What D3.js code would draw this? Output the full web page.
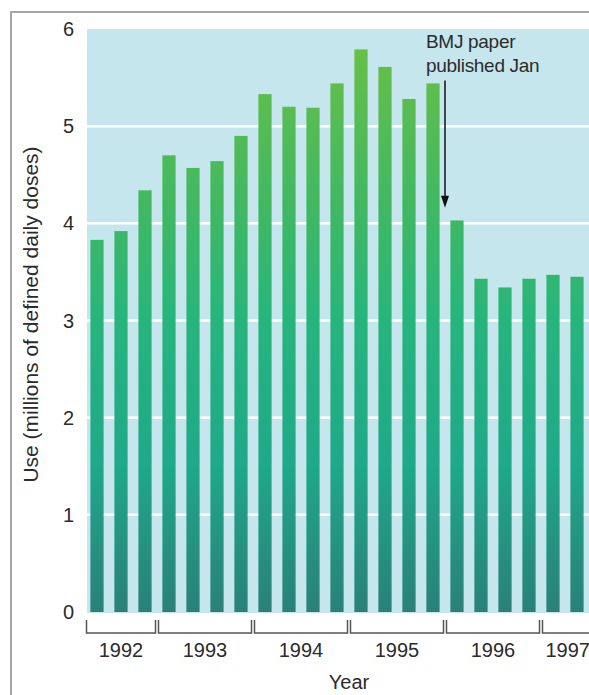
<!DOCTYPE html>
<html>
<head>
<meta charset="utf-8">
<script src="https://cdn.jsdelivr.net/npm/d3@7"></script>
<style>
  body { margin: 0; background: #fff; }
  text { font-family: "Liberation Sans", Arial, sans-serif; fill: #2b2b2b; }
</style>
</head>
<body>
<svg id="chart"></svg>
<script>
// quarterly use, 1992 Q2 to 1997 Q2
const quarters = ['1992Q2','1992Q3','1992Q4',
  '1993Q1','1993Q2','1993Q3','1993Q4',
  '1994Q1','1994Q2','1994Q3','1994Q4',
  '1995Q1','1995Q2','1995Q3','1995Q4',
  '1996Q1','1996Q2','1996Q3','1996Q4',
  '1997Q1','1997Q2'];
const values = [3.83, 3.92, 4.34,
  4.70, 4.57, 4.64, 4.90,
  5.33, 5.20, 5.19, 5.44,
  5.79, 5.61, 5.28, 5.44,
  4.03, 3.43, 3.34, 3.43,
  3.47, 3.45];
const years = ['1992', '1993', '1994', '1995', '1996', '1997'];
const yTicks = [0, 1, 2, 3, 4, 5, 6];
const noteLines = ['BMJ paper', 'published Jan'];
const noteAt = '1996Q1';   // arrow points at the start of this quarter
const arrowFrom = 5.47, arrowTo = 4.16;

const W = 589, H = 695;
const svg = d3.select('#chart').attr('width', W).attr('height', H);

const x = d3.scaleBand()
  .domain(quarters)
  .range([85, 589])
  .paddingInner(0.45)
  .paddingOuter(0.225);

const y = d3.scaleLinear()
  .domain([0, 6])
  .range([612, 29]);

const step = x.step();
const gap = step * 0.45 / 2;

// frame
svg.append('line').attr('x1', 11).attr('x2', W).attr('y1', 12).attr('y2', 12)
  .attr('stroke', '#a6a6a6').attr('stroke-width', 2);
svg.append('line').attr('x1', 11).attr('x2', 11).attr('y1', 11).attr('y2', H)
  .attr('stroke', '#a6a6a6').attr('stroke-width', 2);

// gradient for bars
const grad = svg.append('defs').append('linearGradient')
  .attr('id', 'barGrad')
  .attr('gradientUnits', 'userSpaceOnUse')
  .attr('x1', 0).attr('x2', 0)
  .attr('y1', y(6)).attr('y2', y(0));
[[0, '#6cc044'], [0.3, '#41b862'], [0.5, '#27b57c'], [0.75, '#1fa88a'], [1, '#2a8078']]
  .forEach(s => grad.append('stop').attr('offset', s[0]).attr('stop-color', s[1]));

// plot background
svg.append('rect')
  .attr('x', x.range()[0] + 2)
  .attr('y', y(6))
  .attr('width', W - x.range()[0] - 2)
  .attr('height', y(0) - y(6) + 1)
  .attr('fill', '#c6e6ed');

// gridlines
svg.append('g')
  .selectAll('line')
  .data(yTicks.filter(d => d > 0 && d < 6))
  .enter().append('line')
  .attr('x1', x.range()[0] + 2)
  .attr('x2', W)
  .attr('y1', d => y(d))
  .attr('y2', d => y(d))
  .attr('stroke', '#fff')
  .attr('stroke-width', 2.5);

// bars
svg.append('g')
  .selectAll('rect')
  .data(quarters)
  .enter().append('rect')
  .attr('x', d => x(d))
  .attr('y', (d, i) => y(values[i]))
  .attr('width', x.bandwidth())
  .attr('height', (d, i) => y(0) - y(values[i]))
  .attr('fill', 'url(#barGrad)');

// y tick labels
svg.append('g')
  .selectAll('text')
  .data(yTicks)
  .enter().append('text')
  .attr('x', 74)
  .attr('y', d => y(d) + 7)
  .attr('text-anchor', 'end')
  .style('font-size', '20px')
  .text(d => d);

// year brackets
const yearGroups = years.map(yr => quarters.filter(q => q.startsWith(yr)));
const br = svg.append('g');
yearGroups.forEach((qs, i) => {
  const x0 = x(qs[0]) - gap + 1.5;
  const x1 = x(qs[qs.length - 1]) + x.bandwidth() + gap - 1.5;
  const lastYear = i === years.length - 1;
  br.append('path')
    .attr('d', lastYear
      ? `M${x0},620V633H${W + 20}`
      : `M${x0},620V633H${x1}V620`)
    .attr('fill', 'none')
    .attr('stroke', '#555')
    .attr('stroke-width', 1.5);
  br.append('text')
    .attr('x', lastYear ? x0 + 3 : (x0 + x1) / 2)
    .attr('y', 657)
    .attr('text-anchor', lastYear ? 'start' : 'middle')
    .style('font-size', '20px')
    .text(years[i]);
});

// axis titles
svg.append('text')
  .attr('x', x(quarters[10]) + x.bandwidth() + gap)
  .attr('y', 689)
  .attr('text-anchor', 'middle')
  .style('font-size', '20px')
  .text('Year');

svg.append('text')
  .attr('transform', `translate(38,${(y(0) + y(6)) / 2 - 6}) rotate(-90)`)
  .attr('text-anchor', 'middle')
  .style('font-size', '21px')
  .text('Use (millions of defined daily doses)');

// annotation
const ax = x(noteAt) - gap;
svg.append('line')
  .attr('x1', ax).attr('x2', ax)
  .attr('y1', y(arrowFrom)).attr('y2', y(arrowTo) - 10)
  .attr('stroke', '#111')
  .attr('stroke-width', 1.5);
svg.append('path')
  .attr('d', `M${ax - 4},${y(arrowTo) - 12}L${ax + 4},${y(arrowTo) - 12}L${ax},${y(arrowTo)}Z`)
  .attr('fill', '#111');

svg.append('g')
  .selectAll('text')
  .data(noteLines)
  .enter().append('text')
  .attr('x', ax - 19)
  .attr('y', (d, i) => y(arrowFrom) - 32 + i * 24)
  .style('font-size', '19px')
  .style('letter-spacing', '-0.3px')
  .text(d => d);
</script>
</body>
</html>
